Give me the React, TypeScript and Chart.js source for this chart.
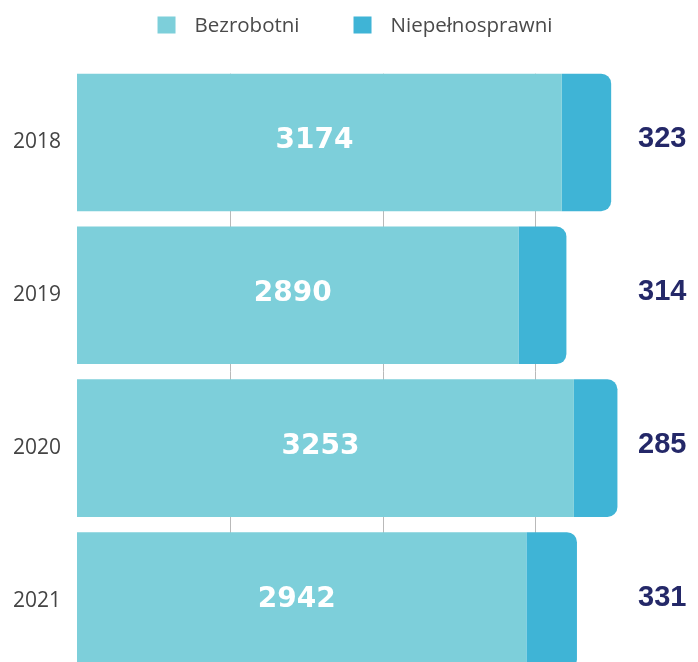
import React, { useEffect, useRef } from "react";
import { Chart, registerables } from "chart.js";

Chart.register(...registerables);

const categories = ["2018", "2019", "2020", "2021"];
const bezrobotni = [3174, 2890, 3253, 2942];
const niepelnosprawni = [323, 314, 285, 331];
const seriesNames = ["Bezrobotni", "Niepełnosprawni"];
const xTicks = [0, 1000, 2000, 3000, 4000];
const gridValues = [1000, 2000, 3000];

const LIGHT = "#7dcfda";
const DARK = "#3fb4d6";
const NAVY = "#242868";

const legendPlugin = {
  id: "customLegend",
  afterDraw(chart: any) {
    const ctx = chart.ctx;
    const ds = chart.data.datasets;
    ctx.save();
    ctx.font = "20.5px 'Open Sans'";
    const box = 18;
    const gapText = 19;
    const gapItem = 54;
    const widths = ds.map((d: any) => box + gapText + ctx.measureText(d.label).width);
    const total = widths.reduce((a: number, b: number) => a + b, 0) + gapItem * (ds.length - 1);
    let x = chart.width / 2 + 6 - total / 2;
    const cy = 25;
    ds.forEach((d: any, i: number) => {
      ctx.fillStyle = d.backgroundColor;
      ctx.fillRect(x, cy - 8.5, box, 17);
      ctx.fillStyle = "#4a4a4a";
      ctx.textBaseline = "middle";
      ctx.textAlign = "left";
      ctx.fillText(d.label, x + box + gapText, cy + 1);
      x += widths[i] + gapItem;
    });
    ctx.restore();
  },
};

const gridPlugin = {
  id: "gapGrid",
  beforeDatasetsDraw(chart: any) {
    const ctx = chart.ctx;
    const xs = chart.scales.x;
    const bars = chart.getDatasetMeta(0).data;
    if (!bars.length) return;
    const first = bars[0];
    const last = bars[bars.length - 1];
    const top = first.y - first.height / 2;
    const bottom = last.y + last.height / 2;
    ctx.save();
    ctx.strokeStyle = "#b9b9b9";
    ctx.lineWidth = 1;
    gridValues.forEach((v) => {
      const px = Math.round(xs.getPixelForValue(v)) + 0.5;
      ctx.beginPath();
      ctx.moveTo(px, top);
      ctx.lineTo(px, bottom);
      ctx.stroke();
    });
    ctx.restore();
  },
};

const valuePlugin = {
  id: "valueLabels",
  afterDatasetsDraw(chart: any) {
    const ctx = chart.ctx;
    ctx.save();
    ctx.textBaseline = "middle";
    const m0 = chart.getDatasetMeta(0);
    m0.data.forEach((bar: any, i: number) => {
      ctx.font = "bold 28px 'DejaVu Sans'";
      ctx.fillStyle = "#ffffff";
      ctx.textAlign = "center";
      ctx.fillText(String(chart.data.datasets[0].data[i]), (bar.x + bar.base) / 2 - 5, bar.y - 1.5);
    });
    const m1 = chart.getDatasetMeta(1);
    m1.data.forEach((bar: any, i: number) => {
      ctx.font = "bold 29px 'Liberation Sans'";
      ctx.fillStyle = NAVY;
      ctx.textAlign = "left";
      ctx.fillText(String(chart.data.datasets[1].data[i]), chart.chartArea.right - 50, bar.y - 3);
    });
    ctx.restore();
  },
};

export default function App() {
  const ref = useRef<HTMLCanvasElement>(null);
  useEffect(() => {
    if (!ref.current) return;
    const chart = new Chart(ref.current, {
      type: "bar",
      data: {
        labels: categories,
        datasets: [
          {
            label: seriesNames[0],
            data: bezrobotni,
            backgroundColor: LIGHT,
            borderWidth: 0,
            borderRadius: 0,
            barPercentage: 0.9,
            categoryPercentage: 1.0,
          },
          {
            label: seriesNames[1],
            data: niepelnosprawni,
            backgroundColor: DARK,
            borderWidth: 0,
            borderSkipped: false,
            borderRadius: { topLeft: 0, bottomLeft: 0, topRight: 10, bottomRight: 10 },
            barPercentage: 0.9,
            categoryPercentage: 1.0,
          },
        ],
      },
      options: {
        indexAxis: "y",
        responsive: false,
        animation: false,
        devicePixelRatio: 1,
        layout: { padding: { top: 66, left: 0, right: 10, bottom: 14 } },
        plugins: { legend: { display: false }, tooltip: { enabled: false } },
        scales: {
          x: {
            stacked: true,
            min: xTicks[0],
            max: xTicks[xTicks.length - 1],
            afterBuildTicks: (s: any) => {
              s.ticks = xTicks.map((v) => ({ value: v }));
            },
            afterFit: (s: any) => {
              s.height = 0;
            },
            ticks: { display: false },
            border: { display: false },
            grid: { display: false, drawTicks: false },
          },
          y: {
            stacked: true,
            afterFit: (s: any) => {
              s.width = 77;
            },
            border: { display: false },
            grid: { display: false, drawTicks: false },
            ticks: {
              padding: 16,
              color: "#444444",
              font: { family: "'Open Sans'", size: 21 },
            },
          },
        },
      },
      plugins: [gridPlugin, legendPlugin, valuePlugin],
    } as any);
    return () => chart.destroy();
  }, []);
  return (
    <div
      style={{
        position: "absolute",
        left: 0,
        top: 0,
        width: 698,
        height: 662,
        overflow: "hidden",
        background: "#ffffff",
      }}
    >
      <canvas ref={ref} width={698} height={706} style={{ display: "block" }} />
    </div>
  );
}
